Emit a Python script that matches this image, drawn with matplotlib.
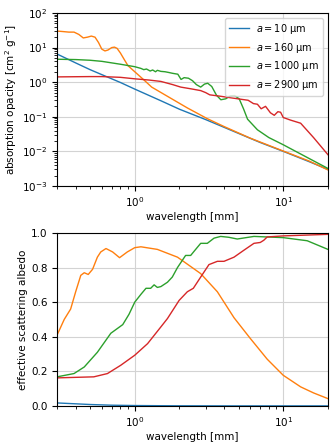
import matplotlib.pyplot as plt

# wavelength [mm] and values
lam_10 = [0.3, 0.4, 0.5, 0.6, 0.8, 1.0, 1.5, 2.0, 3.0, 5.0, 7.0, 10.0, 15.0, 20.0]
kabs_10 = [6.5, 3.6, 2.3, 1.65, 0.98, 0.63, 0.29, 0.165, 0.083, 0.033, 0.018, 0.0100, 0.0050, 0.0030]

lam_160 = [0.3, 0.33, 0.36, 0.39, 0.42, 0.45, 0.48, 0.51, 0.54, 0.57, 0.6, 0.63, 0.66, 0.7, 0.73, 0.76,
           0.8, 0.85, 0.9, 1.0, 1.15, 1.3, 1.66, 2.26, 3.08, 4.0, 6.0, 10.0, 15.0, 20.0]
kabs_160 = [30, 29, 28, 28, 24, 19, 20, 21.5, 20, 14, 9, 8, 8.5, 10, 10.3, 9.5,
            7, 4.5, 3.0, 2.0, 1.17, 0.72, 0.39, 0.18, 0.088, 0.052, 0.024, 0.0102, 0.0052, 0.0029]

lam_1000 = [0.3, 0.4, 0.5, 0.6, 0.8, 1.0, 1.1, 1.15, 1.2, 1.27, 1.32, 1.38, 1.42, 1.5, 1.6, 1.7,
            1.8, 1.95, 2.05, 2.15, 2.3, 2.45, 2.6, 2.78, 2.95, 3.1, 3.3, 3.55, 3.8, 4.1, 4.4, 4.7,
            5.05, 5.4, 5.75, 6.7, 8.0, 10.0, 14.0, 20.0]
kabs_1000 = [4.6, 4.5, 4.3, 4.0, 3.3, 2.8, 2.5, 2.3, 2.4, 2.1, 2.25, 2.0, 2.2, 2.05, 2.0, 1.9,
             1.8, 1.7, 1.2, 1.35, 1.3, 1.1, 0.85, 0.72, 0.88, 0.93, 0.75, 0.42, 0.31, 0.33, 0.4, 0.41,
             0.33, 0.17, 0.085, 0.042, 0.025, 0.0155, 0.0072, 0.0032]

lam_2900 = [0.3, 0.5, 0.6, 0.8, 1.0, 1.25, 1.5, 1.8, 2.04, 2.4, 2.78, 3.0, 3.2, 3.8, 4.3, 5.2, 5.8,
            6.3, 6.7, 7.1, 7.6, 8.2, 8.7, 9.2, 9.6, 10.0, 11.2, 13.1, 16.0, 20.0]
kabs_2900 = [1.42, 1.45, 1.45, 1.38, 1.25, 1.15, 1.05, 0.85, 0.72, 0.64, 0.57, 0.5, 0.43, 0.39, 0.36, 0.32, 0.3,
             0.24, 0.23, 0.17, 0.2, 0.13, 0.11, 0.14, 0.135, 0.095, 0.08, 0.065, 0.025, 0.008]

alb_lam_10 = [0.3, 0.4, 0.5, 0.7, 1.0, 1.5, 2.0, 5.0, 20.0]
alb_10 = [0.017, 0.012, 0.008, 0.004, 0.002, 0.001, 0.0005, 0.0, 0.0]

alb_lam_160 = [0.3, 0.335, 0.37, 0.4, 0.433, 0.457, 0.486, 0.52, 0.56, 0.59, 0.64, 0.71, 0.79, 0.89,
               1.0, 1.1, 1.42, 1.94, 2.78, 3.6, 4.66, 6.0, 7.8, 10.0, 13.1, 16.0, 20.0]
alb_160 = [0.41, 0.50, 0.56, 0.66, 0.755, 0.77, 0.76, 0.79, 0.86, 0.89, 0.91, 0.89, 0.857, 0.89,
           0.915, 0.92, 0.905, 0.86, 0.765, 0.66, 0.51, 0.39, 0.27, 0.177, 0.11, 0.075, 0.042]

alb_lam_1000 = [0.3, 0.39, 0.457, 0.56, 0.69, 0.83, 0.915, 1.0, 1.1, 1.19, 1.28, 1.35, 1.42, 1.5, 1.66,
                1.79, 1.94, 2.2, 2.38, 2.6, 2.78, 3.08, 3.42, 3.79, 4.3, 4.9, 6.35, 10.0, 14.5, 20.0]
alb_1000 = [0.168, 0.187, 0.225, 0.31, 0.42, 0.47, 0.53, 0.60, 0.645, 0.68, 0.68, 0.70, 0.685, 0.69, 0.715,
            0.745, 0.80, 0.87, 0.87, 0.91, 0.94, 0.94, 0.97, 0.98, 0.975, 0.965, 0.98, 0.973, 0.955, 0.905]

alb_lam_2900 = [0.3, 0.53, 0.655, 0.805, 1.0, 1.22, 1.5, 1.66, 1.99, 2.26, 2.48, 2.78, 3.16, 3.6, 3.99,
                4.66, 5.43, 6.35, 7.0, 7.4, 7.8, 10.0, 20.0]
alb_2900 = [0.162, 0.168, 0.187, 0.235, 0.293, 0.36, 0.457, 0.505, 0.61, 0.66, 0.68, 0.745, 0.817, 0.836, 0.836,
            0.86, 0.90, 0.94, 0.945, 0.958, 0.977, 0.983, 0.992]

labels = ['$a = 10$ µm', '$a = 160$ µm', '$a = 1000$ µm', '$a = 2900$ µm']
colors = ['C0', 'C1', 'C2', 'C3']

plt.rcParams['font.size'] = 7.5

fig = plt.figure(figsize=(3.36, 4.48), dpi=100)
ax1 = fig.add_axes([0.170, 0.585, 0.806, 0.386])
ax2 = fig.add_axes([0.170, 0.094, 0.806, 0.386])

kabs = [(lam_10, kabs_10), (lam_160, kabs_160), (lam_1000, kabs_1000), (lam_2900, kabs_2900)]
for (x, y), c, lab in zip(kabs, colors, labels):
    ax1.loglog(x, y, color=c, lw=1, label=lab)
ax1.set_xlim(0.3, 20)
ax1.set_ylim(1e-3, 1e2)
ax1.set_xlabel('wavelength [mm]', labelpad=2)
ax1.set_ylabel('absorption opacity [cm$^2$ g$^{-1}$]', labelpad=2)
ax1.grid(color='lightgray')
ax1.legend(loc='upper right', fontsize=7)

alb = [(alb_lam_10, alb_10), (alb_lam_160, alb_160), (alb_lam_1000, alb_1000), (alb_lam_2900, alb_2900)]
for (x, y), c in zip(alb, colors):
    ax2.semilogx(x, y, color=c, lw=1)
ax2.set_xlim(0.3, 20)
ax2.set_ylim(0, 1)
ax2.set_xlabel('wavelength [mm]', labelpad=2)
ax2.set_ylabel('effective scattering albedo', labelpad=2)
ax2.grid(color='lightgray')

fig.savefig('out.png', dpi=100)
